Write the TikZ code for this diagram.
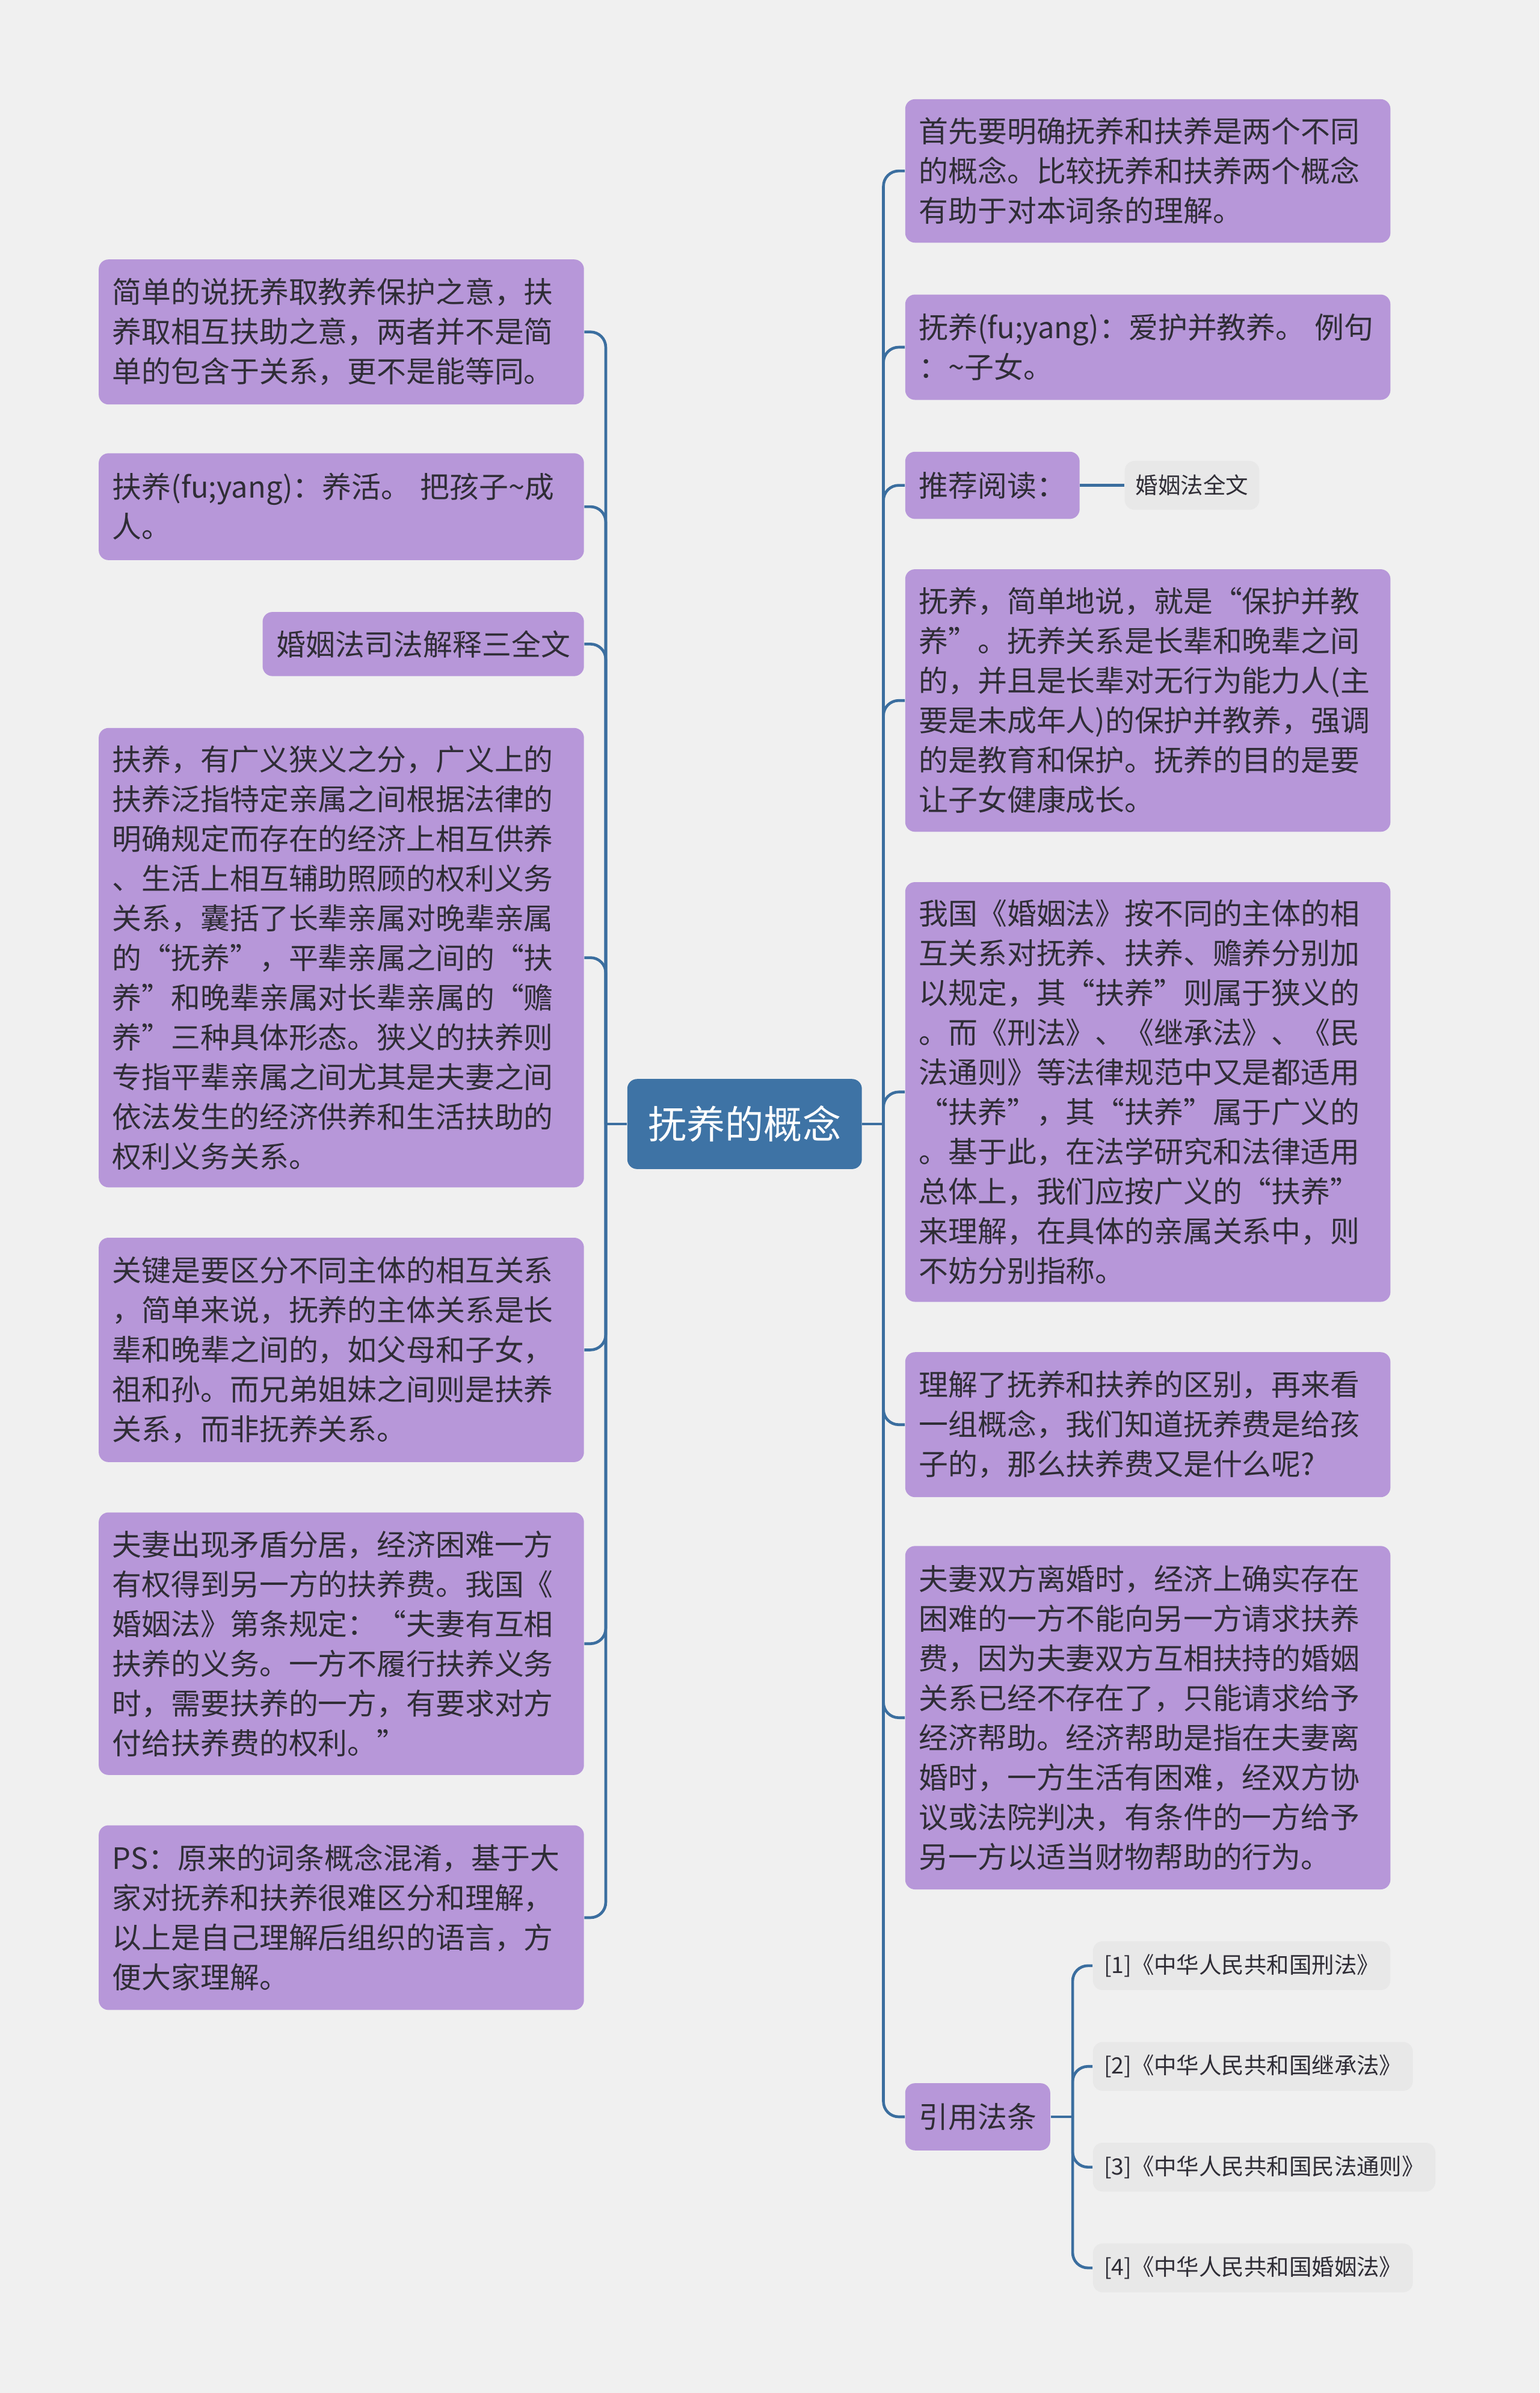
\documentclass[tikz,border=0pt]{standalone}
\usepackage{fontspec}
\newfontfamily\cjk{Noto Sans CJK SC}
\usepackage{xcolor}
\usepackage{tikz}
\usetikzlibrary{positioning}
\definecolor{bgcol}{HTML}{F0F0F0}
\definecolor{topicfill}{HTML}{B797D9}
\definecolor{leaffill}{HTML}{E8E8E8}
\definecolor{rootfill}{HTML}{3E73A5}
\definecolor{linkblue}{HTML}{3B6E9F}
\definecolor{inkdark}{HTML}{2F2D36}
\tikzset{
  topic/.style ={rectangle,rounded corners=1.6mm,fill=topicfill,text=inkdark,
                 inner ysep=0pt,inner xsep=2.25mm,font=\cjk\fontsize{13.7pt}{18.5pt}\selectfont},
  wide/.style  ={topic,text width=75mm,align=left},
  leaf/.style  ={rectangle,rounded corners=1.6mm,fill=leaffill,text=inkdark,inner ysep=0pt,
                 inner xsep=1.8mm,minimum height=8mm,font=\cjk\fontsize{10.5pt}{13pt}\selectfont},
  root/.style  ={rectangle,rounded corners=1.6mm,fill=rootfill,text=white,inner ysep=0pt,
                 inner xsep=3.4mm,minimum height=14.75mm,font=\cjk\fontsize{18pt}{22pt}\selectfont},
  link/.style  ={draw=linkblue,line width=1.3pt,rounded corners=2.5mm},
}
\begin{document}
\begin{tikzpicture}[x=0.25mm,y=-0.25mm]
  \fill[bgcol] (0,0) rectangle (1009,1568);
  % central topic
  \node[root] (root) at (488,736.5) {抚养的概念};
  \coordinate (ltrunk) at (397,736.5);
  \coordinate (rtrunk) at (579,736.5);
  % left side
  \node[wide,anchor=east,minimum height=23.75mm] (simple) at (383,217.5)
    {简单的说抚养取教养保护之意，扶\\养取相互扶助之意，两者并不是简\\单的包含于关系，更不是能等同。};
  \node[wide,anchor=east,minimum height=17.5mm] (fuyangA) at (383,332)
    {扶养(fu;yang)：养活。~把孩子\textasciitilde 成\\人。};
  \node[topic,anchor=east,minimum height=10.5mm] (interp) at (383,422) {婚姻法司法解释三全文};
  \node[wide,anchor=east,minimum height=75.25mm] (broad) at (383,627.5)
    {扶养，有广义狭义之分，广义上的\\扶养泛指特定亲属之间根据法律的\\明确规定而存在的经济上相互供养\\、生活上相互辅助照顾的权利义务\\关系，囊括了长辈亲属对晚辈亲属\\的“抚养”，平辈亲属之间的“扶\\养”和晚辈亲属对长辈亲属的“赡\\养”三种具体形态。狭义的扶养则\\专指平辈亲属之间尤其是夫妻之间\\依法发生的经济供养和生活扶助的\\权利义务关系。};
  \node[wide,anchor=east,minimum height=36.75mm] (key) at (383,884.5)
    {关键是要区分不同主体的相互关系\\，简单来说，抚养的主体关系是长\\辈和晚辈之间的，如父母和子女，\\祖和孙。而兄弟姐妹之间则是扶养\\关系，而非抚养关系。};
  \node[wide,anchor=east,minimum height=43mm] (spouse) at (383,1077)
    {夫妻出现矛盾分居，经济困难一方\\有权得到另一方的扶养费。我国《\\婚姻法》第条规定：“夫妻有互相\\扶养的义务。一方不履行扶养义务\\时，需要扶养的一方，有要求对方\\付给扶养费的权利。”};
  \node[wide,anchor=east,minimum height=30.25mm] (ps) at (383,1256.5)
    {PS：原来的词条概念混淆，基于大\\家对抚养和扶养很难区分和理解，\\以上是自己理解后组织的语言，方\\便大家理解。};
  % right side
  \node[wide,anchor=west,minimum height=23.5mm] (first) at (593,112)
    {首先要明确抚养和扶养是两个不同\\的概念。比较抚养和扶养两个概念\\有助于对本词条的理解。};
  \node[wide,anchor=west,minimum height=17.25mm] (fuyangB) at (593,227.5)
    {抚养(fu;yang)：爱护并教养。~例句\\：\textasciitilde 子女。};
  \node[topic,anchor=west,minimum height=11mm] (read) at (593,318) {推荐阅读：};
  \node[leaf,right=7.25mm of read] (readlaw) {婚姻法全文};
  \node[wide,anchor=west,minimum height=43mm] (care) at (593,459)
    {抚养，简单地说，就是“保护并教\\养”。抚养关系是长辈和晚辈之间\\的，并且是长辈对无行为能力人(主\\要是未成年人)的保护并教养，强调\\的是教育和保护。抚养的目的是要\\让子女健康成长。};
  \node[wide,anchor=west,minimum height=68.75mm] (marriage) at (593,715.5)
    {我国《婚姻法》按不同的主体的相\\互关系对抚养、扶养、赡养分别加\\以规定，其“扶养”则属于狭义的\\。而《刑法》、《继承法》、《民\\法通则》等法律规范中又是都适用\\“扶养”，其“扶养”属于广义的\\。基于此，在法学研究和法律适用\\总体上，我们应按广义的“扶养”\\来理解，在具体的亲属关系中，则\\不妨分别指称。};
  \node[wide,anchor=west,minimum height=23.75mm] (fee) at (593,933.5)
    {理解了抚养和扶养的区别，再来看\\一组概念，我们知道抚养费是给孩\\子的，那么扶养费又是什么呢?};
  \node[wide,anchor=west,minimum height=56.25mm] (divorce) at (593,1125.5)
    {夫妻双方离婚时，经济上确实存在\\困难的一方不能向另一方请求扶养\\费，因为夫妻双方互相扶持的婚姻\\关系已经不存在了，只能请求给予\\经济帮助。经济帮助是指在夫妻离\\婚时，一方生活有困难，经双方协\\议或法院判决，有条件的一方给予\\另一方以适当财物帮助的行为。};
  \node[topic,anchor=west,minimum height=11mm] (cite) at (593,1387) {引用法条};
  \coordinate (ctrunk) at (703,1387);
  % cited laws
  \node[leaf,anchor=west] (lawA) at (716,1288) {[1]《中华人民共和国刑法》};
  \node[leaf,anchor=west] (lawB) at (716,1354) {[2]《中华人民共和国继承法》};
  \node[leaf,anchor=west] (lawC) at (716,1420) {[3]《中华人民共和国民法通则》};
  \node[leaf,anchor=west] (lawD) at (716,1486) {[4]《中华人民共和国婚姻法》};
  % connectors, left
  \draw[link] (root.west) -- (ltrunk);
  \draw[link] (ltrunk) |- (simple.east);
  \draw[link] (ltrunk) |- (fuyangA.east);
  \draw[link] (ltrunk) |- (interp.east);
  \draw[link] (ltrunk) |- (broad.east);
  \draw[link] (ltrunk) |- (key.east);
  \draw[link] (ltrunk) |- (spouse.east);
  \draw[link] (ltrunk) |- (ps.east);
  % connectors, right
  \draw[link] (root.east) -- (rtrunk);
  \draw[link] (rtrunk) |- (first.west);
  \draw[link] (rtrunk) |- (fuyangB.west);
  \draw[link] (rtrunk) |- (read.west);
  \draw[link] (rtrunk) |- (care.west);
  \draw[link] (rtrunk) |- (marriage.west);
  \draw[link] (rtrunk) |- (fee.west);
  \draw[link] (rtrunk) |- (divorce.west);
  \draw[link] (rtrunk) |- (cite.west);
  \draw[link] (read.east) -- (readlaw.west);
  \draw[link] (cite.east) -- (ctrunk);
  \draw[link] (ctrunk) |- (lawA.west);
  \draw[link] (ctrunk) |- (lawB.west);
  \draw[link] (ctrunk) |- (lawC.west);
  \draw[link] (ctrunk) |- (lawD.west);
\end{tikzpicture}
\end{document}
